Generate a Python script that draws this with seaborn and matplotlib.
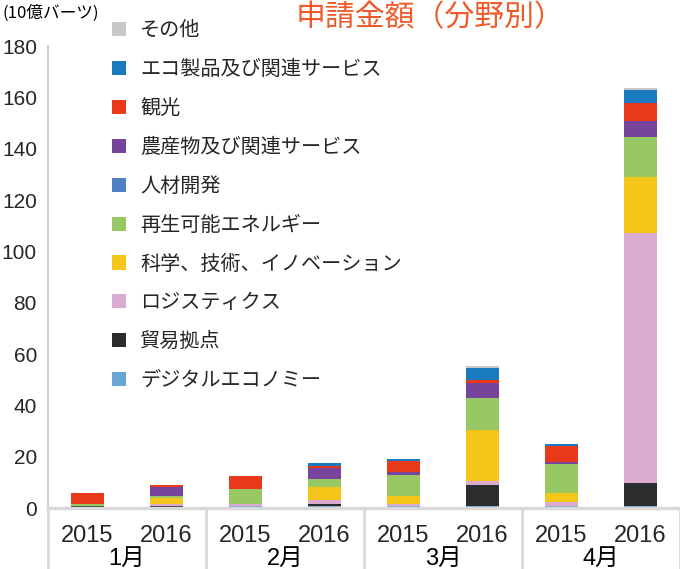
import matplotlib
matplotlib.use("Agg")
import matplotlib.pyplot as plt
import seaborn as sns
import pandas as pd
import numpy as np
from matplotlib.patches import Patch
import matplotlib.transforms as mtransforms

months = ["1月", "2月", "3月", "4月"]
years = ["2015", "2016"]
bar_labels = [f"{m}{y}" for m in months for y in years]

# stacking order bottom -> top
categories = ["デジタルエコノミー", "貿易拠点", "ロジスティクス", "科学、技術、イノベーション",
              "再生可能エネルギー", "人材開発", "農産物及び関連サービス", "観光",
              "エコ製品及び関連サービス", "その他"]
colors = ["#6aa6d4", "#2b2c2e", "#dbaacf", "#f5c61a", "#98c864", "#4f81c4",
          "#76449a", "#e8391a", "#1a7abf", "#c8c8c8"]

digital   = [0.0, 0.0, 0.8, 0.8, 0.8, 0.8, 0.8, 0.65]
trade     = [0.7, 0.9, 0.0, 0.8, 0.0, 8.2, 0.0, 9.05]
logistics = [0.1, 0.8, 0.8, 1.55, 0.65, 1.55, 1.55, 97.5]
science   = [0.0, 2.3, 0.0, 4.9, 3.4, 20.0, 3.3, 21.6]
renewable = [0.8, 0.8, 5.7, 3.4, 8.2, 12.3, 11.4, 15.65]
hr        = [0.0, 0.0, 0.0, 0.0, 0.0, 0.0, 0.0, 0.0]
agri      = [0.0, 3.2, 0.0, 4.1, 0.9, 5.8, 0.9, 6.5]
tourism   = [4.2, 1.05, 5.05, 0.9, 4.3, 1.05, 6.1, 6.7]
eco       = [0.0, 0.0, 0.0, 0.9, 0.8, 4.9, 0.8, 5.2]
other     = [0.0, 0.0, 0.0, 0.0, 0.0, 0.9, 0.0, 0.9]

series = [digital, trade, logistics, science, renewable, hr, agri, tourism, eco, other]

sns.set_theme(style="white")
plt.rcParams['font.family'] = ['Liberation Sans', 'Noto Sans CJK JP', 'DejaVu Sans']

fig = plt.figure(figsize=(6.8, 5.69), dpi=100)
ax = fig.add_axes([48/680, 1-508/569, 1-48/680, (508-46)/569])

bottom = np.zeros(len(bar_labels))
for cat, vals, col in zip(categories, series, colors):
    df = pd.DataFrame({"bar": bar_labels, "value": vals})
    sns.barplot(data=df, x="bar", y="value", order=bar_labels, color=col,
                bottom=bottom, width=0.41, linewidth=0, saturation=1, ax=ax)
    bottom = bottom + np.array(vals)

ax.set_ylim(0, 180)
ax.set_xlim(-0.5, 7.5)
ax.set_yticks(range(0, 181, 20))
ax.tick_params(axis='y', labelsize=15, length=0, pad=8)
ax.set_xticks(range(8))
ax.set_xticklabels(years * 4)
ax.tick_params(axis='x', labelsize=17, length=0, pad=12)
ax.set_xlabel("")
ax.set_ylabel("")

for s in ["top", "right"]:
    ax.spines[s].set_visible(False)
ax.spines["left"].set_color("#d0d0d0")
ax.spines["left"].set_linewidth(1.5)
ax.spines["bottom"].set_color("#d9d9d9")
ax.spines["bottom"].set_linewidth(2.5)

trans = mtransforms.blended_transform_factory(ax.transData, ax.transAxes)
for xs in [-0.5, 1.5, 3.5, 5.5, 7.5]:
    ax.plot([xs, xs], [0, -0.14], transform=trans, color="#d9d9d9", lw=2, clip_on=False)
for i, m in enumerate(months):
    ax.text(2*i + 0.5, -0.11, m, transform=trans, ha="center", va="center",
            fontsize=17, color="black")

handles = [Patch(facecolor=c, edgecolor='none') for c in colors]
leg = ax.legend(handles[::-1], categories[::-1], loc="upper left",
                bbox_to_anchor=(112/680, 1-20/569), bbox_transform=fig.transFigure,
                frameon=False, prop={'family': ['Noto Sans CJK JP'], 'size': 14.5},
                handlelength=0.7, handleheight=0.7,
                labelspacing=0.89, handletextpad=0.7, borderpad=0, borderaxespad=0)

fig.text(430/680, 1-18/569, "申請金額（分野別）", ha="center", va="center",
         fontsize=21.5, color="#f05a28", family=['Noto Sans CJK JP'])
fig.text(2/680, 1-13/569, "(10億バーツ)", ha="left", va="center",
         fontsize=12, color="black", family=['Noto Sans CJK JP'])

fig.savefig("out.png", dpi=100)
